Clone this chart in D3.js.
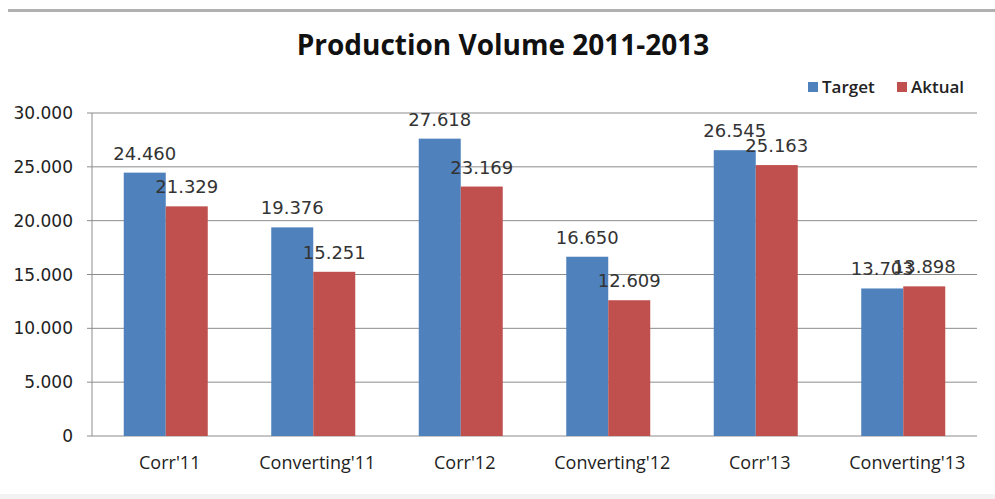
<!DOCTYPE html>
<html>
<head>
<meta charset="utf-8">
<script src="https://cdn.jsdelivr.net/npm/d3@7"></script>
<style>
  body { margin: 0; background: #fff; }
  svg { display: block; }
</style>
</head>
<body>
<svg id="chart" width="995" height="499"></svg>
<script>
const categories = ["Corr'11", "Converting'11", "Corr'12", "Converting'12", "Corr'13", "Converting'13"]
const seriesNames = ['Target', 'Aktual']
const target = [24460, 19376, 27618, 16650, 26545, 13703]
const aktual = [21329, 15251, 23169, 12609, 25163, 13898]
const yTicks = [0, 5000, 10000, 15000, 20000, 25000, 30000]
const colors = ['#4F81BD', '#C0504D']

const svg = d3.select('#chart')
const margin = { left: 92, right: 977, top: 113, bottom: 436 }

const fmt = d => d3.format(',')(d).replace(/,/g, '.')

// frame lines of the slide
svg.append('rect').attr('x', 8).attr('y', 9).attr('width', 987).attr('height', 3).attr('fill', '#b0b0b0')
svg.append('rect').attr('x', 0).attr('y', 494).attr('width', 995).attr('height', 5).attr('fill', '#f3f3f3')

svg.append('text')
    .attr('x', 503).attr('y', 55)
    .attr('text-anchor', 'middle')
    .style('font-family', 'Open Sans, Liberation Sans, sans-serif')
    .style('font-weight', 'bold')
    .style('font-size', '28px')
    .style('fill', '#111')
    .text('Production Volume 2011-2013')

const x0 = d3.scaleBand()
    .domain(categories)
    .range([margin.left, margin.right])
    .paddingInner(0)
    .paddingOuter(0)

const x1 = d3.scaleBand()
    .domain(seriesNames)
    .range([0, 84])

const y = d3.scaleLinear()
    .domain([0, 30000])
    .range([margin.bottom, margin.top])

// gridlines
svg.append('g')
    .selectAll('line')
    .data(yTicks)
    .enter().append('line')
    .attr('x1', margin.left - 5)
    .attr('x2', margin.right)
    .attr('y1', d => y(d))
    .attr('y2', d => y(d))
    .attr('stroke', '#8c8c8c')
    .attr('stroke-width', 1)

// y axis line
svg.append('line')
    .attr('x1', margin.left).attr('x2', margin.left)
    .attr('y1', margin.top).attr('y2', margin.bottom)
    .attr('stroke', '#8c8c8c')

svg.append('g')
    .selectAll('text')
    .data(yTicks)
    .enter().append('text')
    .attr('x', 73)
    .attr('y', d => y(d) + 6)
    .attr('text-anchor', 'end')
    .style('font-family', 'DejaVu Sans, Verdana, sans-serif')
    .style('font-size', '17px')
    .style('fill', '#222')
    .text(d => fmt(d))

const rows = categories.map((c, i) => ({ cat: c, vals: [target[i], aktual[i]] }))

const groups = svg.selectAll('g.grp')
    .data(rows)
    .enter().append('g')
    .attr('class', 'grp')
    .attr('transform', d => `translate(${x0(d.cat) + x0.bandwidth() / 2 - 42},0)`)

groups.selectAll('rect')
    .data(d => d.vals.map((v, j) => ({ name: seriesNames[j], v: v, j: j })))
    .enter().append('rect')
    .attr('x', d => x1(d.name))
    .attr('width', x1.bandwidth())
    .attr('y', d => y(d.v))
    .attr('height', d => y(0) - y(d.v))
    .attr('fill', d => colors[d.j])

groups.selectAll('text.lbl')
    .data(d => d.vals.map((v, j) => ({ name: seriesNames[j], v: v, j: j })))
    .enter().append('text')
    .attr('class', 'lbl')
    .attr('x', d => x1(d.name) + x1.bandwidth() / 2)
    .attr('y', d => y(d.v) - 13)
    .attr('text-anchor', 'middle')
    .style('font-family', 'DejaVu Sans, Verdana, sans-serif')
    .style('font-size', '18px')
    .style('fill', '#333')
    .text(d => fmt(d.v))

// x labels
svg.append('g')
    .selectAll('text')
    .data(categories)
    .enter().append('text')
    .attr('x', d => x0(d) + x0.bandwidth() / 2 + 4)
    .attr('y', 469)
    .attr('text-anchor', 'middle')
    .style('font-family', 'Open Sans, Liberation Sans, sans-serif')
    .style('font-size', '18px')
    .style('fill', '#222')
    .text(d => d)

// legend
const legend = svg.append('g')
    .selectAll('g')
    .data(seriesNames)
    .enter().append('g')
    .attr('transform', (d, i) => `translate(${[808, 897][i]},82)`)

legend.append('rect')
    .attr('width', 10).attr('height', 10)
    .attr('fill', (d, i) => colors[i])

legend.append('text')
    .attr('x', 14).attr('y', 11)
    .style('font-family', 'Open Sans, Liberation Sans, sans-serif')
    .style('font-size', '17px')
    .style('font-weight', '600')
    .style('fill', '#222')
    .text(d => d)
</script>
</body>
</html>
